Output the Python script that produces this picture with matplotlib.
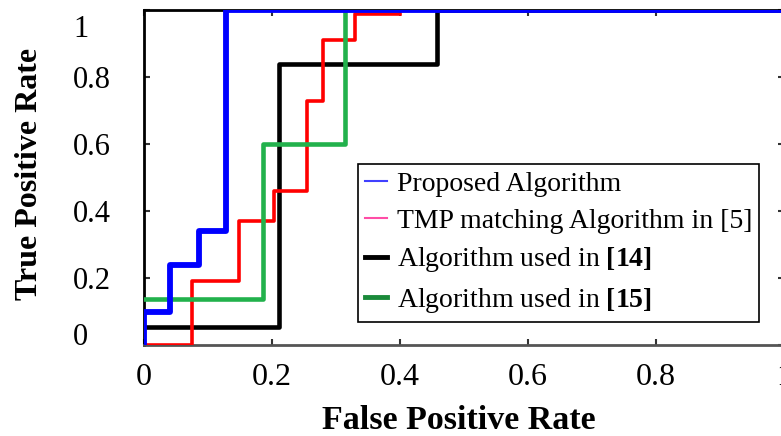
import matplotlib
matplotlib.use('Agg')
import matplotlib.pyplot as plt
import matplotlib.transforms as mtransforms

plt.rcParams['font.family'] = 'Liberation Serif'
plt.rcParams['mathtext.fontset'] = 'custom'
plt.rcParams['mathtext.rm'] = 'Liberation Serif'
plt.rcParams['mathtext.bf'] = 'Liberation Serif:bold'

# curvas ROC (escalones)
fpr_prop = [0, 0, 0.04, 0.04, 0.086, 0.086, 0.128, 0.128, 1.0]
tpr_prop = [0, 0.10, 0.10, 0.24, 0.24, 0.34, 0.34, 1.0, 1.0]

fpr_tmp = [0, 0.075, 0.075, 0.148, 0.148, 0.203, 0.203, 0.255, 0.255, 0.28, 0.28, 0.33, 0.33, 0.40]
tpr_tmp = [0, 0, 0.19, 0.19, 0.37, 0.37, 0.46, 0.46, 0.73, 0.73, 0.91, 0.91, 0.99, 0.99]

fpr_14 = [0, 0.211, 0.211, 0.458, 0.458, 1.0]
tpr_14 = [0.054, 0.054, 0.84, 0.84, 1.0, 1.0]

fpr_15 = [0, 0.186, 0.186, 0.314, 0.314]
tpr_15 = [0.137, 0.137, 0.60, 0.60, 0.995]

labels = ['Proposed Algorithm',
          'TMP matching Algorithm in [5]',
          r'Algorithm used in $\mathbf{[14]}$',
          r'Algorithm used in $\mathbf{[15]}$']

fig = plt.figure(figsize=(7.81, 4.36), dpi=100)
ax = fig.add_axes([0.1844, 0.2087, 0.8195, 0.768])

l_prop, = ax.plot(fpr_prop, tpr_prop, color='#0000ff', lw=4.2, zorder=5, label=labels[0])
l_tmp, = ax.plot(fpr_tmp, tpr_tmp, color='#ff0000', lw=2.6, zorder=3, label=labels[1])
l_14, = ax.plot(fpr_14, tpr_14, color='black', lw=3.3, zorder=2, label=labels[2])
l_15, = ax.plot(fpr_15, tpr_15, color='#22b14c', lw=3.3, zorder=4, label=labels[3])

ax.set_xlim(0, 1)
ax.set_ylim(0, 1)
ax.set_xticks([0, 0.2, 0.4, 0.6, 0.8, 1])
ax.set_xticklabels(['0', '0.2', '0.4', '0.6', '0.8', '1'])
ax.set_yticks([0, 0.2, 0.4, 0.6, 0.8, 1])
ax.set_yticklabels(['0', '0.2', '0.4', '0.6', '0.8', '1'])

ax.tick_params(direction='in', length=4, width=1.5, top=True, right=True, color='#333333')
ax.tick_params(axis='x', labelsize=23, pad=13)
ax.tick_params(axis='y', labelsize=22, pad=51)
for lab in ax.get_yticklabels():
    lab.set_ha('left')

# desplazar "0" y "1" como en la figura original
ylabs = ax.get_yticklabels()
ylabs[0].set_transform(ylabs[0].get_transform() + mtransforms.ScaledTranslation(0, 11 / 100, fig.dpi_scale_trans))
ylabs[-1].set_transform(ylabs[-1].get_transform() + mtransforms.ScaledTranslation(0, -16 / 100, fig.dpi_scale_trans))

for s in ['left', 'top', 'right']:
    ax.spines[s].set_color('black')
    ax.spines[s].set_linewidth(2)
ax.spines['bottom'].set_color('#555555')
ax.spines['bottom'].set_linewidth(2)

ax.set_xlabel('False Positive Rate', fontsize=24.5, fontweight='bold')
ax.set_ylabel('True Positive Rate', fontsize=23, fontweight='bold')
ax.xaxis.set_label_coords(0.492, -0.178)
ax.yaxis.set_label_coords(-0.157, 0.512)

leg = ax.legend(loc='upper left', bbox_to_anchor=(0.334, 0.54), borderaxespad=0,
                fontsize=20, handlelength=0.8, handletextpad=0.35, labelspacing=0.42,
                borderpad=0.25, frameon=True, fancybox=False, framealpha=1)
leg.get_frame().set_edgecolor('black')
leg.get_frame().set_linewidth(1.2)
leg_colors = ['#4040ff', '#ff4da6', 'black', '#1a8a3a']
leg_widths = [1.5, 1.5, 3.5, 3.5]
for ln, c, w in zip(leg.get_lines(), leg_colors, leg_widths):
    ln.set_color(c)
    ln.set_linewidth(w)

plt.savefig('out.png', dpi=100)
